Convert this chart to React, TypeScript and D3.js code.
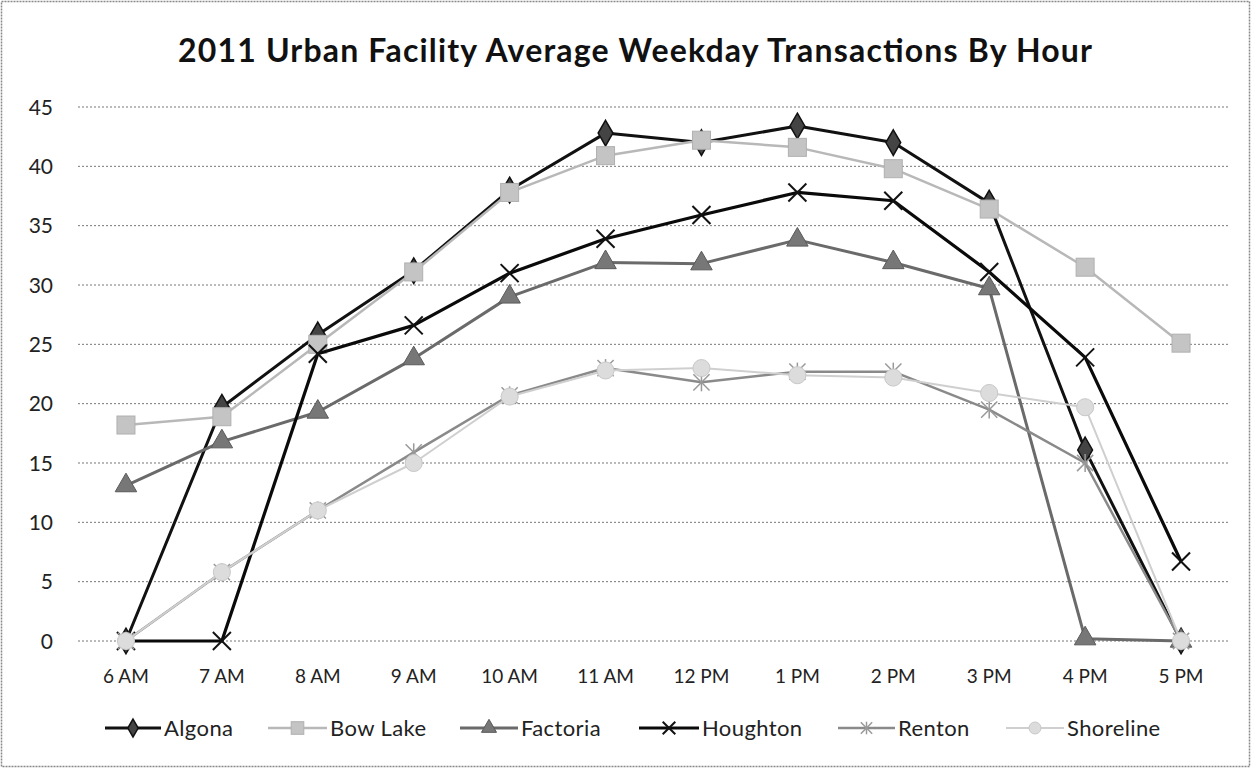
import React from "react";
import * as d3 from "d3";

const hours = ["6 AM", "7 AM", "8 AM", "9 AM", "10 AM", "11 AM", "12 PM", "1 PM", "2 PM", "3 PM", "4 PM", "5 PM"];
const yTicks = [0, 5, 10, 15, 20, 25, 30, 35, 40, 45];

const algona = [0, 19.7, 25.8, 31.2, 38.0, 42.8, 42.0, 43.4, 42.0, 36.9, 16.1, 0];
const bowLake = [18.2, 18.9, 25.0, 31.1, 37.8, 40.9, 42.2, 41.6, 39.8, 36.4, 31.5, 25.1];
const factoria = [13.1, 16.8, 19.3, 23.8, 29.0, 31.9, 31.8, 33.8, 31.9, 29.7, 0.2, 0];
const houghton = [0, 0, 24.2, 26.6, 31.0, 33.9, 35.9, 37.8, 37.1, 31.1, 23.9, 6.7];
const renton = [0, 5.8, 11.0, 15.9, 20.7, 23.0, 21.8, 22.7, 22.7, 19.5, 15.0, 0];
const shoreline = [0, 5.8, 11.0, 15.0, 20.6, 22.8, 23.0, 22.4, 22.2, 20.9, 19.7, 0];

type Series = { name: string; values: number[]; line: string; width: number; marker: string; fill: string; stroke: string };

const series: Series[] = [
  { name: "Algona", values: algona, line: "#111", width: 3, marker: "diamond", fill: "#444", stroke: "#111" },
  { name: "Bow Lake", values: bowLake, line: "#b8b8b8", width: 2.5, marker: "square", fill: "#c4c4c4", stroke: "#b0b0b0" },
  { name: "Factoria", values: factoria, line: "#6a6a6a", width: 3, marker: "triangle", fill: "#777", stroke: "#5a5a5a" },
  { name: "Houghton", values: houghton, line: "#0a0a0a", width: 3.2, marker: "x", fill: "none", stroke: "#111" },
  { name: "Renton", values: renton, line: "#8a8a8a", width: 2.5, marker: "star", fill: "none", stroke: "#999" },
  { name: "Shoreline", values: shoreline, line: "#cfcfcf", width: 2, marker: "circle", fill: "#dcdcdc", stroke: "#c8c8c8" },
];

const W = 1251;
const H = 768;
const plotLeft = 78;
const plotRight = 1229;
const plotTop = 107;
const plotBottom = 641;
const FONT = "Lato, 'Open Sans', sans-serif";

function Marker({ kind, x, y, s, k = 1 }: { kind: string; x: number; y: number; s: Series; k?: number }) {
  const r = 9 * k;
  if (kind === "diamond") {
    const p = d3.symbol(d3.symbolDiamond, 190 * k * k)();
    return <path d={p || ""} transform={`translate(${x},${y})`} fill={s.fill} stroke={s.stroke} strokeWidth={1.5} />;
  }
  if (kind === "square") {
    return <rect x={x - r} y={y - r} width={2 * r} height={2 * r} fill={s.fill} stroke={s.stroke} strokeWidth={1} />;
  }
  if (kind === "triangle") {
    const p = d3.symbol(d3.symbolTriangle, 200 * k * k)();
    return <path d={p || ""} transform={`translate(${x},${y})`} fill={s.fill} stroke={s.stroke} strokeWidth={1} />;
  }
  if (kind === "x") {
    return (
      <g stroke={s.stroke} strokeWidth={2}>
        <line x1={x - r} y1={y - r} x2={x + r} y2={y + r} />
        <line x1={x - r} y1={y + r} x2={x + r} y2={y - r} />
      </g>
    );
  }
  if (kind === "star") {
    return (
      <g stroke={s.stroke} strokeWidth={1.5}>
        <line x1={x - 0.9 * r} y1={y - 0.9 * r} x2={x + 0.9 * r} y2={y + 0.9 * r} />
        <line x1={x - 0.9 * r} y1={y + 0.9 * r} x2={x + 0.9 * r} y2={y - 0.9 * r} />
        <line x1={x} y1={y - r} x2={x} y2={y + r} />
      </g>
    );
  }
  return <circle cx={x} cy={y} r={0.95 * r} fill={s.fill} stroke={s.stroke} strokeWidth={1} />;
}

export default function App() {
  const x = d3.scaleBand<string>().domain(hours).range([plotLeft, plotRight]);
  const y = d3.scaleLinear().domain([0, 45]).range([plotBottom, plotTop]);
  const cx = (h: string) => (x(h) as number) + x.bandwidth() / 2;
  const lineGen = d3
    .line<number>()
    .x((_, i) => cx(hours[i]))
    .y((v) => y(v));

  const legendItems = [
    { lx: 105, tx: 164 },
    { lx: 268, tx: 330 },
    { lx: 460, tx: 521 },
    { lx: 639, tx: 702 },
    { lx: 838, tx: 898 },
    { lx: 1006, tx: 1067 },
  ];

  return (
    <svg width={W} height={H} style={{ position: "absolute", left: 0, top: 0, background: "#fff" }} fontFamily={FONT}>
      <rect x={1.5} y={1.5} width={W - 3} height={H - 3} fill="#fff" stroke="#888" strokeWidth={1.5} strokeDasharray="2 1" />
      <text x={178} y={62} fontSize={32} fontWeight={700} fill="#111" textLength={914} lengthAdjust="spacing">
        2011 Urban Facility Average Weekday Transactions By Hour
      </text>
      {yTicks.map((t) => (
        <g key={t}>
          <line x1={plotLeft} x2={plotRight} y1={y(t)} y2={y(t)} stroke="#777" strokeWidth={1} strokeDasharray="2 2" />
          <text x={53} y={y(t)} dy="0.36em" textAnchor="end" fontSize={21} fill="#222">
            {t}
          </text>
        </g>
      ))}
      {hours.map((h) => (
        <text key={h} x={cx(h)} y={683} textAnchor="middle" fontSize={19} fill="#222">
          {h}
        </text>
      ))}
      {series.map((s) => (
        <g key={s.name}>
          <path d={lineGen(s.values) || ""} fill="none" stroke={s.line} strokeWidth={s.width} strokeLinejoin="round" />
          {s.values.map((v, i) => (
            <Marker key={i} kind={s.marker} x={cx(hours[i])} y={y(v)} s={s} />
          ))}
        </g>
      ))}
      {series.map((s, i) => {
        const it = legendItems[i];
        const ly = 728;
        return (
          <g key={s.name}>
            <line x1={it.lx} x2={it.tx - 3} y1={ly} y2={ly} stroke={s.line} strokeWidth={s.width} />
            <Marker kind={s.marker} x={(it.lx + it.tx - 3) / 2} y={ly} s={s} k={0.7} />
            <text x={it.tx} y={ly} dy="0.36em" fontSize={22} fill="#222" letterSpacing={0.4}>
              {s.name}
            </text>
          </g>
        );
      })}
    </svg>
  );
}
